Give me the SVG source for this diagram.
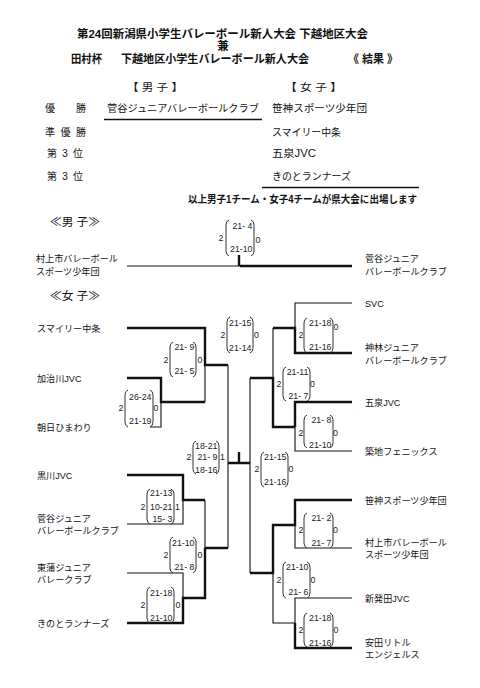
<svg xmlns="http://www.w3.org/2000/svg" width="480" height="688" viewBox="0 0 480 688">
<style>
text{font-family:"Liberation Sans","Noto Sans CJK JP",sans-serif;fill:#111}
.h{font-size:11.5px;font-weight:bold}
.sub{font-size:10.5px}
.row{font-size:10px}
.sec{font-size:11.5px}
.tm{font-size:9.1px}
.sc{font-size:8.8px;text-anchor:end;fill:#222}
.lb{font-size:8.8px;text-anchor:middle;fill:#222}
.thin{fill:none;stroke:#111;stroke-width:1.1}
.thick{fill:none;stroke:#111;stroke-width:2.4}
.rule{fill:none;stroke:#111;stroke-width:1.6}
.par{fill:none;stroke:#333;stroke-width:1}
</style>
<rect width="480" height="688" fill="#fff"/>
<g id="header">
<text class="h" x="77" y="37.5" textLength="291" lengthAdjust="spacingAndGlyphs">第24回新潟県小学生バレーボール新人大会 下越地区大会</text>
<text class="h" x="223" y="49.5" text-anchor="middle">兼</text>
<text class="h" x="71" y="63" textLength="31" lengthAdjust="spacingAndGlyphs">田村杯</text>
<text class="h" x="121" y="63" textLength="188" lengthAdjust="spacingAndGlyphs">下越地区小学生バレーボール新人大会</text>
<text class="h" x="348" y="63" textLength="50" lengthAdjust="spacingAndGlyphs">《 結果 》</text>
</g>
<g id="results">
<text class="sub" x="127" y="91" textLength="56" lengthAdjust="spacingAndGlyphs">【 男 子 】</text>
<text class="sub" x="285" y="91" textLength="57" lengthAdjust="spacingAndGlyphs">【 女 子 】</text>
<text class="row" x="45" y="112" textLength="41" lengthAdjust="spacing">優　　勝</text>
<text class="row" x="107" y="112" textLength="152" lengthAdjust="spacingAndGlyphs">菅谷ジュニアバレーボールクラブ</text>
<text class="row" x="272" y="112" textLength="95" lengthAdjust="spacingAndGlyphs">笹神スポーツ少年団</text>
<path class="rule" d="M104,119.5 H262"/>
<text class="row" x="45" y="136" textLength="41" lengthAdjust="spacing">準 優 勝</text>
<text class="row" x="272" y="136" textLength="69" lengthAdjust="spacingAndGlyphs">スマイリー中条</text>
<text class="row" x="47" y="157" textLength="36" lengthAdjust="spacing">第 3 位</text>
<text class="row" x="272" y="157" textLength="44" lengthAdjust="spacingAndGlyphs">五泉JVC</text>
<text class="row" x="47" y="180" textLength="36" lengthAdjust="spacing">第 3 位</text>
<text class="row" x="272" y="180" textLength="79" lengthAdjust="spacingAndGlyphs">きのとランナーズ</text>
<path class="rule" d="M262,187.5 H419"/>
<text class="row" x="188" y="203" font-weight="bold" textLength="229" lengthAdjust="spacingAndGlyphs">以上男子1チーム・女子4チームが県大会に出場します</text>
<text class="sec" x="50" y="226" textLength="50" lengthAdjust="spacingAndGlyphs">≪男 子≫</text>
<text class="sec" x="50" y="300" textLength="50" lengthAdjust="spacingAndGlyphs">≪女 子≫</text>
</g>
<g id="connectors">
<path class="thin" d="M127,266 H240"/>
<path class="thick" d="M240,266 H352 M239,255 V266"/>
<path class="thin" d="M205,365 V402 M150,427 H161 V402 M228,365 V548 M250,378 V573 M273,328 V378 M352,303 H295 V328 M295,427 V451 H352 M273,573 V623 H295 M295,525 V548 H352 M295,623 V598 H352 M127,524 H183 V500 M205,500 V548 M127,573 H183 V598"/>
<path class="thick" d="M127,328 H205 V365 H228 M127,378 H161 V402 H205 M228,463 H250 M239,452 V463 M250,378 H273 V427 H295 M273,328 H295 V353 H352 M295,427 V402 H352 M250,573 H273 V525 H295 V500 H352 M295,623 V648 H352 M127,475 H183 V500 H205 M205,548 H228 M205,548 V598 H183 V623 H127"/>
</g>
<g id="team-m-murakami"><text class="tm" x="36" y="262">村上市バレーボール</text><text class="tm" x="36" y="275">スポーツ少年団</text></g>
<g id="team-m-sugaya"><text class="tm" x="365" y="262">菅谷ジュニア</text><text class="tm" x="365" y="275">バレーボールクラブ</text></g>
<g id="team-smiley"><text class="tm" x="37" y="331.5">スマイリー中条</text></g>
<g id="team-kajikawa"><text class="tm" x="37" y="381.5">加治川JVC</text></g>
<g id="team-asahi"><text class="tm" x="37" y="430.5">朝日ひまわり</text></g>
<g id="team-kurokawa"><text class="tm" x="37" y="478.5">黒川JVC</text></g>
<g id="team-sugaya"><text class="tm" x="37" y="521.5">菅谷ジュニア</text><text class="tm" x="37" y="533.5">バレーボールクラブ</text></g>
<g id="team-tokan"><text class="tm" x="37" y="570.5">東蒲ジュニア</text><text class="tm" x="37" y="582.5">バレークラブ</text></g>
<g id="team-kinoto"><text class="tm" x="37" y="626.5">きのとランナーズ</text></g>
<g id="team-svc"><text class="tm" x="365" y="306.5">SVC</text></g>
<g id="team-kanbayashi"><text class="tm" x="365" y="350.5">神林ジュニア</text><text class="tm" x="365" y="363.5">バレーボールクラブ</text></g>
<g id="team-gosen"><text class="tm" x="365" y="405.5">五泉JVC</text></g>
<g id="team-tsukiji"><text class="tm" x="365" y="454.5">築地フェニックス</text></g>
<g id="team-sasakami"><text class="tm" x="365" y="503.5">笹神スポーツ少年団</text></g>
<g id="team-murakami"><text class="tm" x="365" y="545.5">村上市バレーボール</text><text class="tm" x="365" y="557.5">スポーツ少年団</text></g>
<g id="team-shibata"><text class="tm" x="365" y="601.5">新発田JVC</text></g>
<g id="team-yasuda"><text class="tm" x="365" y="645.5">安田リトル</text><text class="tm" x="365" y="657.5">エンジェルス</text></g>
<g id="score-m">
<path class="par" d="M229,220 Q226,221 226,225 V251 Q226,255 229,256 M251,220 Q254,221 254,225 V251 Q254,255 251,256"/>
<text class="sc" x="252.5" y="229">21- 4</text><text class="sc" x="252.5" y="252">21-10</text>
<text class="lb" x="221" y="241">2</text><text class="lb" x="258" y="243">0</text>
</g>
<g id="score-final">
<path class="par" d="M230,317 Q227,318 227,322 V348 Q227,352 230,353 M250,317 Q253,318 253,322 V348 Q253,352 250,353"/>
<text class="sc" x="251.5" y="326">21-15</text><text class="sc" x="251.5" y="351">21-14</text>
<text class="lb" x="223" y="338">2</text><text class="lb" x="256.5" y="338">0</text>
</g>
<g id="score-l1">
<path class="par" d="M173,342 Q170,343 170,347 V372 Q170,376 173,377 M193,342 Q196,343 196,347 V372 Q196,376 193,377"/>
<text class="sc" x="194.5" y="350">21- 9</text><text class="sc" x="194.5" y="374">21- 5</text>
<text class="lb" x="166" y="363">2</text><text class="lb" x="200" y="363">0</text>
</g>
<g id="score-l2">
<path class="par" d="M128,390 Q125,391 125,395 V422 Q125,426 128,427 M150,390 Q153,391 153,395 V422 Q153,426 150,427"/>
<text class="sc" x="151.5" y="400">26-24</text><text class="sc" x="151.5" y="424">21-19</text>
<text class="lb" x="121" y="411">2</text><text class="lb" x="156" y="411">0</text>
</g>
<g id="score-l-semi">
<path class="par" d="M196,441 Q193,442 193,446 V469 Q193,473 196,474 M216,441 Q219,442 219,446 V469 Q219,473 216,474"/>
<text class="sc" x="217.5" y="449">18-21</text><text class="sc" x="217.5" y="460">21- 9</text><text class="sc" x="217.5" y="473">18-16</text>
<text class="lb" x="189" y="460">2</text><text class="lb" x="222.5" y="460">1</text>
</g>
<g id="score-l3">
<path class="par" d="M150,489 Q147,490 147,494 V519 Q147,523 150,524 M171,489 Q174,490 174,494 V519 Q174,523 171,524"/>
<text class="sc" x="172.5" y="496">21-13</text><text class="sc" x="172.5" y="510">10-21</text><text class="sc" x="172.5" y="522">15- 3</text>
<text class="lb" x="143" y="510">2</text><text class="lb" x="177.5" y="510">1</text>
</g>
<g id="score-l4">
<path class="par" d="M173,537 Q170,538 170,542 V568 Q170,572 173,573 M193,537 Q196,538 196,542 V568 Q196,572 193,573"/>
<text class="sc" x="194.5" y="546">21-10</text><text class="sc" x="194.5" y="570">21- 8</text>
<text class="lb" x="166" y="558">2</text><text class="lb" x="200" y="558">0</text>
</g>
<g id="score-l5">
<path class="par" d="M150,587 Q147,588 147,592 V618 Q147,622 150,623 M171,587 Q174,588 174,592 V618 Q174,622 171,623"/>
<text class="sc" x="172.5" y="596">21-18</text><text class="sc" x="172.5" y="621">21-10</text>
<text class="lb" x="143" y="608">2</text><text class="lb" x="178" y="608">0</text>
</g>
<g id="score-r1">
<path class="par" d="M307,318 Q304,319 304,323 V348 Q304,352 307,353 M330,318 Q333,319 333,323 V348 Q333,352 330,353"/>
<text class="sc" x="331.5" y="326">21-18</text><text class="sc" x="331.5" y="350">21-16</text>
<text class="lb" x="301" y="338">2</text><text class="lb" x="336" y="330">0</text>
</g>
<g id="score-r2">
<path class="par" d="M286,367 Q283,368 283,372 V396 Q283,400 286,401 M307,367 Q310,368 310,372 V396 Q310,400 307,401"/>
<text class="sc" x="308.5" y="375">21-11</text><text class="sc" x="308.5" y="399">21- 7</text>
<text class="lb" x="279" y="387">2</text><text class="lb" x="312.5" y="387">0</text>
</g>
<g id="score-r3">
<path class="par" d="M307,415 Q304,416 304,420 V443 Q304,447 307,448 M330,415 Q333,416 333,420 V443 Q333,447 330,448"/>
<text class="sc" x="331.5" y="423">21- 8</text><text class="sc" x="331.5" y="448">21-10</text>
<text class="lb" x="301" y="436">2</text><text class="lb" x="335.5" y="436">0</text>
</g>
<g id="score-r-semi">
<path class="par" d="M264,452 Q261,453 261,457 V482 Q261,486 264,487 M285,452 Q288,453 288,457 V482 Q288,486 285,487"/>
<text class="sc" x="286.5" y="460">21-15</text><text class="sc" x="286.5" y="485">21-16</text>
<text class="lb" x="257" y="472">2</text><text class="lb" x="291" y="472">0</text>
</g>
<g id="score-r4">
<path class="par" d="M307,513 Q304,514 304,518 V543 Q304,547 307,548 M330,513 Q333,514 333,518 V543 Q333,547 330,548"/>
<text class="sc" x="331.5" y="521">21- 2</text><text class="sc" x="331.5" y="546">21- 7</text>
<text class="lb" x="301" y="533">2</text><text class="lb" x="335.5" y="533">0</text>
</g>
<g id="score-r5">
<path class="par" d="M286,562 Q283,563 283,567 V593 Q283,597 286,598 M307,562 Q310,563 310,567 V593 Q310,597 307,598"/>
<text class="sc" x="308.5" y="570">21-10</text><text class="sc" x="308.5" y="595">21- 6</text>
<text class="lb" x="279" y="583">2</text><text class="lb" x="313" y="583">0</text>
</g>
<g id="score-r6">
<path class="par" d="M307,613 Q304,614 304,618 V642 Q304,646 307,647 M330,613 Q333,614 333,618 V642 Q333,646 330,647"/>
<text class="sc" x="331.5" y="621">21-18</text><text class="sc" x="331.5" y="646">21-16</text>
<text class="lb" x="301" y="633">2</text><text class="lb" x="336" y="633">0</text>
</g>
</svg>
